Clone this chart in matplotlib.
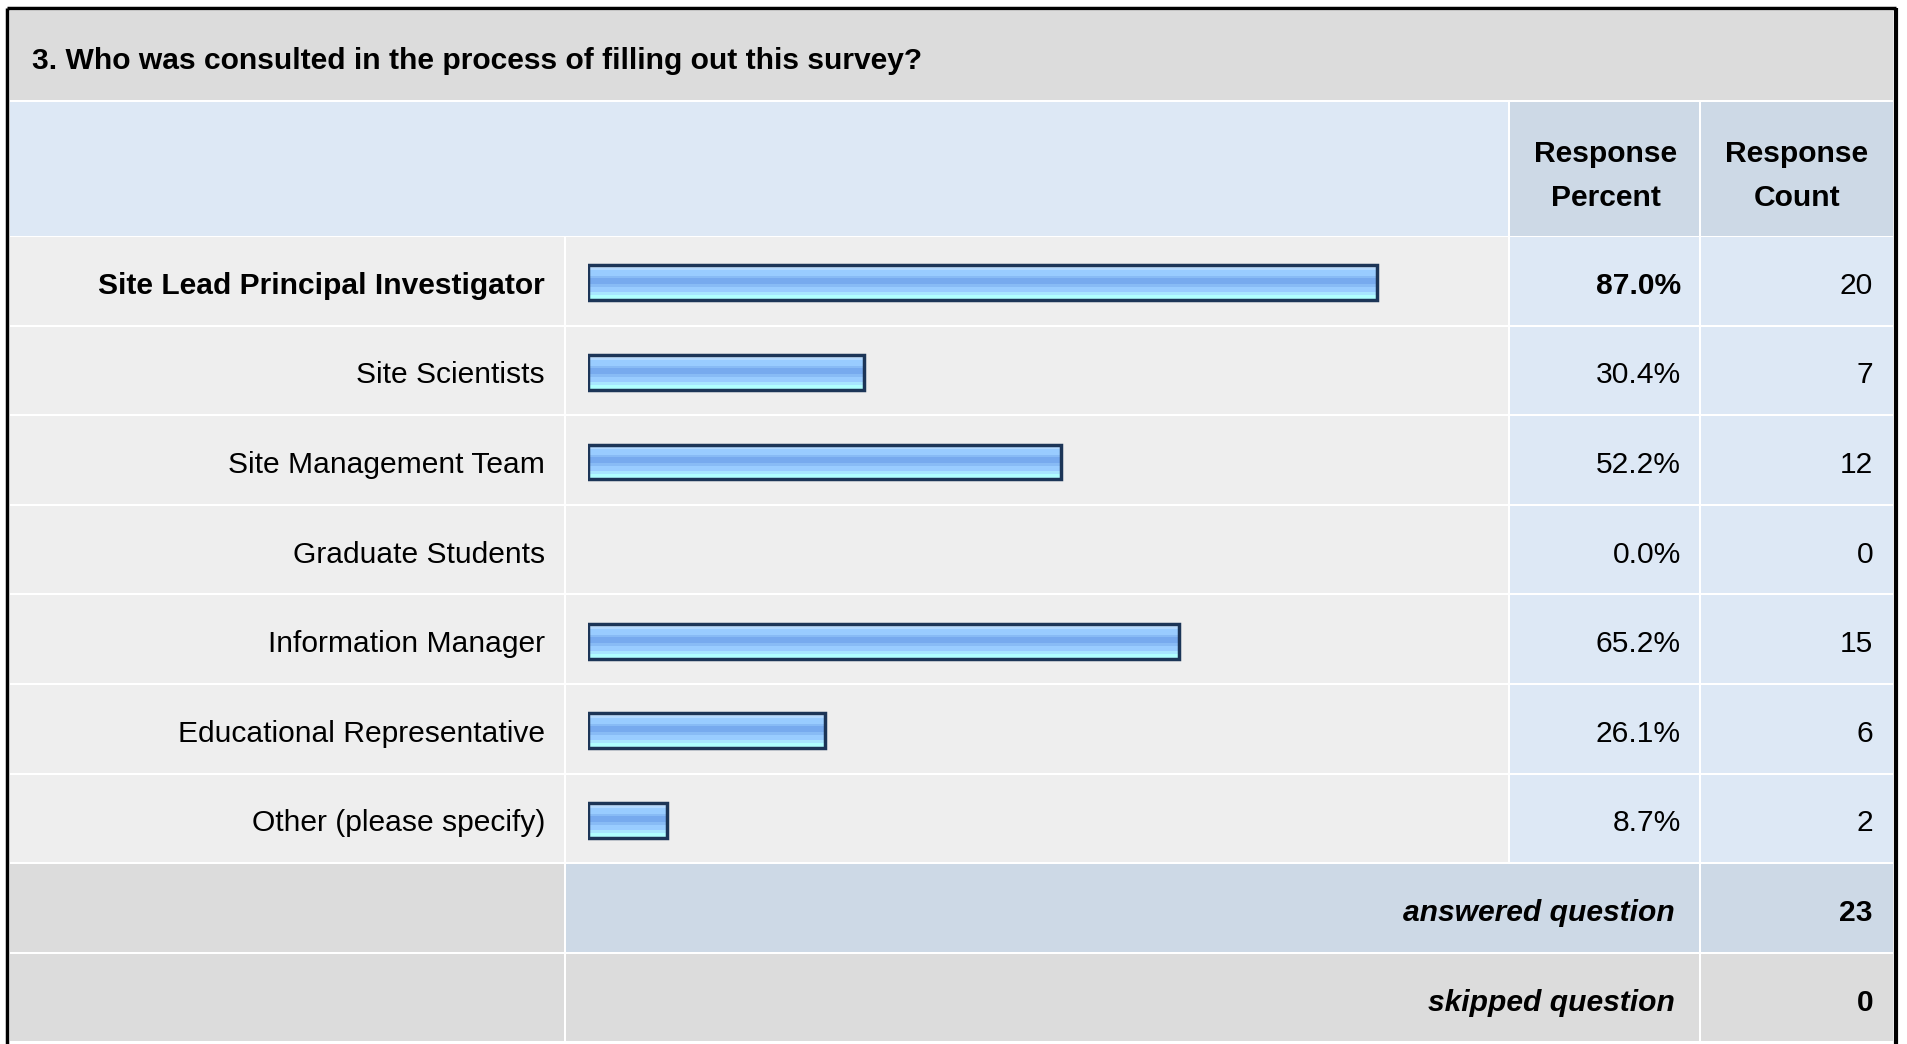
import numpy as np
import matplotlib
matplotlib.use('Agg')
import matplotlib.pyplot as plt
from matplotlib.patches import Rectangle
from matplotlib.colors import ListedColormap

plt.rcParams['font.family'] = ['Liberation Sans', 'DejaVu Sans']

title = "3. Who was consulted in the process of filling out this survey?"
choices = ['Site Lead Principal Investigator', 'Site Scientists', 'Site Management Team',
           'Graduate Students', 'Information Manager', 'Educational Representative',
           'Other (please specify)']
percents = [87.0, 30.4, 52.2, 0.0, 65.2, 26.1, 8.7]
counts = [20, 7, 12, 0, 15, 6, 2]
answered = 23
skipped = 0

W, H = 1907, 1044
FS = 21.6
dy = 5  # text nudge down

# column edges (pixels)
x_left, x_lab, x_pct, x_cnt, x_right = 10, 566, 1510, 1701, 1893
gap = 2
row_top = 237
row_h = 89.6

fig = plt.figure(figsize=(W / 100, H / 100), dpi=100)
ax = fig.add_axes([0, 0, 1, 1])
ax.set_xlim(0, W)
ax.set_ylim(H, 0)
ax.axis('off')


def cell(x0, x1, y0, y1, color):
    ax.add_patch(Rectangle((x0, y0), x1 - x0 - gap, y1 - y0 - gap, facecolor=color,
                           edgecolor='none', zorder=1))


# title band
cell(x_left, x_right + gap, 11, 102, '#dcdcdc')
ax.text(32, 58 + 3, title, fontsize=FS, fontweight='bold', ha='left', va='center')

# header band
cell(x_left, x_pct, 102, row_top + 1, '#dde8f5')
cell(x_pct, x_cnt, 102, row_top + 1, '#cdd9e6')
cell(x_cnt, x_right + gap, 102, row_top + 1, '#cdd9e6')
ax.text((x_pct + x_cnt) / 2, 171 + dy, 'Response\nPercent', fontsize=FS, fontweight='bold',
        ha='center', va='center', linespacing=1.72)
ax.text((x_cnt + x_right) / 2, 171 + dy, 'Response\nCount', fontsize=FS, fontweight='bold',
        ha='center', va='center', linespacing=1.72)

best = int(np.argmax(percents))
for i, (name, p, c) in enumerate(zip(choices, percents, counts)):
    y0 = row_top + i * row_h
    y1 = y0 + row_h
    yc = (y0 + y1 - gap) / 2 + dy
    cell(x_left, x_lab, y0, y1, '#eeeeee')
    cell(x_lab, x_pct, y0, y1, '#eeeeee')
    cell(x_pct, x_cnt, y0, y1, '#dde8f5')
    cell(x_cnt, x_right + gap, y0, y1, '#dde8f5')
    w = 'bold' if i == best else 'normal'
    ax.text(x_lab - 21, yc, name, fontsize=FS, fontweight=w, ha='right', va='center')
    ax.text(1681, yc, f'{p:.1f}%', fontsize=FS, fontweight=w, ha='right', va='center')
    ax.text(1873, yc, str(c), fontsize=FS, ha='right', va='center')

# summary rows
y0 = row_top + len(choices) * row_h
cell(x_left, x_lab, y0, y0 + row_h, '#dcdcdc')
cell(x_lab, x_cnt, y0, y0 + row_h, '#cdd9e6')
cell(x_cnt, x_right + gap, y0, y0 + row_h, '#cdd9e6')
yc = y0 + (row_h - gap) / 2 + dy
ax.text(1675, yc, 'answered question', fontsize=FS, fontweight='bold', style='italic',
        ha='right', va='center')
ax.text(1873, yc, str(answered), fontsize=FS, fontweight='bold', ha='right', va='center')

y0 += row_h
cell(x_left, x_lab, y0, y0 + row_h, '#dcdcdc')
cell(x_lab, x_cnt, y0, y0 + row_h, '#dcdcdc')
cell(x_cnt, x_right + gap, y0, y0 + row_h, '#dcdcdc')
yc = y0 + (row_h - gap) / 2 + dy
ax.text(1675, yc, 'skipped question', fontsize=FS, fontweight='bold', style='italic',
        ha='right', va='center')
ax.text(1873, yc, str(skipped), fontsize=FS, fontweight='bold', ha='right', va='center')

# outer border
ax.plot([7, 7], [H, 7.5], color='black', lw=2.5, zorder=5, solid_capstyle='butt')
ax.plot([7, 1895.5], [7.5, 7.5], color='black', lw=2.5, zorder=5, solid_capstyle='butt')
ax.plot([1895.5, 1895.5], [7.5, H], color='black', lw=3, zorder=5, solid_capstyle='butt')

# bars
bar_x0, bar_x100 = 588, 1495
rows_bottom = row_top + len(choices) * row_h
axb = fig.add_axes([bar_x0 / W, 1 - rows_bottom / H, (bar_x100 - bar_x0) / W,
                    (rows_bottom - row_top) / H])
axb.patch.set_alpha(0)
axb.axis('off')
ypos = np.arange(len(choices))
bar_h = 0.39
grad = ListedColormap(['#cce6ff', '#b3d9ff', '#99ccff', '#99ccff', '#88bbf5', '#77aaee',
                       '#77aaee', '#88bbf5', '#99ccff', '#99ccff', '#a8e6ff', '#b0ffff',
                       '#b0ffff'])
bars = axb.barh(ypos, percents, height=bar_h, color='none', edgecolor='#1c3557',
                linewidth=2.5, zorder=3)
for b, p in zip(bars, percents):
    if p <= 0:
        b.set_linewidth(0)
        continue
    x, y, bw, bh = b.get_x(), b.get_y(), b.get_width(), b.get_height()
    axb.imshow(np.arange(13).reshape(-1, 1), cmap=grad, aspect='auto',
               interpolation='nearest', extent=[x, x + bw, y + bh, y], zorder=2)
axb.set_xlim(0, 100)
axb.set_ylim(len(choices) - 0.5 - 0.011, -0.5 - 0.011)

fig.savefig('out.png', dpi=100, facecolor='white')
